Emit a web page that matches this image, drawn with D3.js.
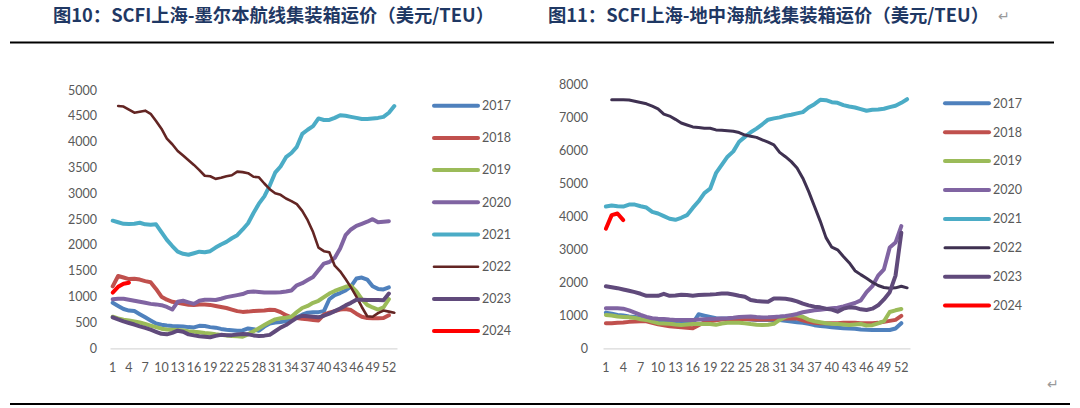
<!DOCTYPE html>
<html>
<head>
<meta charset="utf-8">
<script src="https://cdn.jsdelivr.net/npm/d3@7"></script>
<style>
html,body{margin:0;padding:0;background:#fff;}
svg{display:block;}
</style>
</head>
<body>
<svg id="chart" width="1080" height="408"></svg>
<script>
// ---------- data ----------
const weeks = [1,2,3,4,5,6,7,8,9,10,11,12,13,14,15,16,17,18,19,20,21,22,23,24,25,26,27,28,29,30,31,32,33,34,35,36,37,38,39,40,41,42,43,44,45,46,47,48,49,50,51,52,53];
const xTickLabels = [1,4,7,10,13,16,19,22,25,28,31,34,37,40,43,46,49,52];
const years = ["2017","2018","2019","2020","2021","2022","2023","2024"];
const melbTicks = [0,500,1000,1500,2000,2500,3000,3500,4000,4500,5000];
const medTicks = [0,1000,2000,3000,4000,5000,6000,7000,8000];
const titleLeft = "图10：SCFI上海-墨尔本航线集装箱运价（美元/TEU）";
const titleRight = "图11：SCFI上海-地中海航线集装箱运价（美元/TEU）";

// Shanghai - Melbourne (USD/TEU), index = week-1
const melb2017 = [880,820,760,730,720,660,600,540,480,455,440,430,425,420,410,405,435,430,410,400,375,360,350,340,345,385,370,340,420,480,500,510,530,550,600,650,690,700,700,720,950,1030,1070,1120,1200,1350,1370,1330,1200,1150,1140,1180];
const melb2018 = [1200,1400,1370,1340,1345,1330,1300,1280,1150,1000,940,900,880,860,845,840,850,850,840,820,800,780,750,720,705,710,720,725,730,745,740,700,640,600,585,570,560,550,540,650,690,720,750,760,740,670,610,585,580,580,585,640];
const melb2019 = [610,580,555,540,520,500,470,440,410,380,365,360,355,345,330,320,310,295,285,270,260,250,240,235,225,270,330,390,450,510,560,580,590,610,700,780,820,880,920,990,1060,1110,1150,1190,1210,1100,950,840,790,750,790,950];
const melb2020 = [950,960,960,940,920,900,880,860,850,835,800,750,900,920,890,860,920,940,940,935,960,990,1010,1030,1050,1090,1100,1090,1080,1080,1080,1085,1100,1120,1220,1260,1320,1380,1510,1640,1670,1750,1930,2190,2300,2370,2410,2450,2500,2440,2450,2460];
const melb2021 = [2470,2440,2410,2406,2410,2430,2400,2390,2400,2250,2100,1980,1870,1830,1810,1840,1870,1860,1880,1950,2010,2060,2130,2190,2300,2420,2620,2800,2940,3150,3400,3520,3700,3780,3900,4150,4230,4300,4450,4420,4420,4460,4510,4500,4480,4460,4440,4440,4450,4460,4480,4560,4690];
const melb2022 = [null,4690,4680,4620,4560,4580,4600,4540,4400,4250,4060,3950,3820,3730,3640,3550,3450,3340,3330,3280,3300,3330,3350,3420,3410,3390,3320,3310,3190,3080,3000,2970,2900,2850,2790,2660,2480,2250,1950,1880,1860,1600,1490,1340,1180,1000,800,620,610,680,730,710,690];
const melb2023 = [600,560,520,490,460,425,395,360,320,280,270,300,340,320,270,250,235,225,215,240,260,255,255,265,275,270,250,240,245,260,330,400,450,520,590,630,620,610,600,630,670,720,770,830,880,940,940,935,935,935,930,1060];
const melb2024 = [1080,1190,1250,1270];

// Shanghai - Mediterranean (USD/TEU)
const med2017 = [1080,1050,1010,990,965,950,920,905,880,820,800,780,770,760,755,755,1030,990,950,910,905,900,895,890,885,870,860,860,860,860,855,830,810,790,770,740,700,675,660,640,620,610,600,590,570,560,555,555,555,555,600,760];
const med2018 = [760,760,770,780,800,810,820,820,770,730,700,670,650,635,620,605,700,790,820,850,870,880,885,890,885,880,870,870,875,880,890,900,905,900,850,800,770,760,755,755,760,770,775,770,760,755,755,770,800,830,860,980];
const med2019 = [1010,990,960,950,940,920,880,860,810,760,750,740,720,705,720,736,740,735,735,710,750,775,775,776,760,735,715,705,715,740,860,950,1000,1000,950,870,820,790,760,745,736,720,705,720,735,690,700,756,820,1100,1150,1190];
const med2020 = [1210,1210,1210,1200,1150,1080,1010,950,910,895,885,870,860,855,855,860,870,880,890,895,905,910,925,945,955,960,945,935,940,950,960,975,1000,1040,1090,1120,1150,1170,1190,1210,1230,1270,1320,1370,1450,1700,1880,2200,2390,3050,3200,3700];
const med2021 = [4290,4320,4300,4290,4350,4350,4300,4260,4130,4080,4000,3920,3890,3950,4030,4250,4450,4700,4830,5300,5550,5800,5960,6250,6400,6540,6650,6780,6920,6960,6990,7040,7070,7110,7150,7290,7390,7520,7510,7450,7430,7360,7320,7290,7240,7190,7220,7230,7250,7300,7340,7430,7540];
const med2022 = [null,7520,7520,7520,7515,7480,7440,7400,7330,7250,7090,7030,6930,6820,6760,6700,6680,6660,6660,6610,6600,6585,6570,6530,6455,6420,6385,6310,6240,6160,5930,5800,5650,5460,5150,4750,4300,3850,3350,3060,2980,2780,2590,2350,2230,2120,2000,1900,1840,1815,1830,1880,1830];
const med2023 = [1880,1850,1820,1780,1740,1700,1650,1590,1590,1590,1650,1590,1600,1620,1610,1590,1610,1620,1625,1640,1660,1660,1630,1590,1560,1460,1430,1420,1410,1510,1510,1500,1470,1420,1350,1300,1260,1240,1200,1170,1110,1200,1240,1230,1180,1160,1200,1300,1480,1700,2200,3500];
const med2024 = [3620,4030,4080,3880];

const melbSeries = [melb2017,melb2018,melb2019,melb2020,melb2021,melb2022,melb2023,melb2024];
const medSeries = [med2017,med2018,med2019,med2020,med2021,med2022,med2023,med2024];

// ---------- styles ----------
const baseColors = ["#4f81bd","#c0504d","#9bbb59","#8064a2","#4bacc6",null,"#604a7b","#ff0000"];
const FONT = "Lato, 'Liberation Sans', sans-serif";
const CJK = "'Noto Sans CJK SC', sans-serif";
const TICK_COLOR = "#595959";

const svg = d3.select("#chart");
svg.append("rect").attr("width",1080).attr("height",408).attr("fill","#fff");

// titles
svg.append("text").attr("x",53).attr("y",22)
  .attr("font-family",CJK).attr("font-weight","bold").attr("font-size",18.3)
  .attr("fill","#1f3864").text(titleLeft);
svg.append("text").attr("x",548).attr("y",22)
  .attr("font-family",CJK).attr("font-weight","bold").attr("font-size",18.3)
  .attr("fill","#1f3864").text(titleRight);
svg.append("text").attr("x",998).attr("y",21)
  .attr("font-family",FONT).attr("font-size",14).attr("fill","#9a9a9a").text("↵");
svg.append("text").attr("x",1047).attr("y",389)
  .attr("font-family",FONT).attr("font-size",14).attr("fill","#9a9a9a").text("↵");

// rules
svg.append("line").attr("x1",10).attr("x2",1054).attr("y1",42.5).attr("y2",42.5)
  .attr("stroke","#000").attr("stroke-width",1.8);
svg.append("line").attr("x1",10).attr("x2",1070).attr("y1",404).attr("y2",404)
  .attr("stroke","#000").attr("stroke-width",1.8);

function drawPanel(cfg){
  const g = svg.append("g");
  const x = d3.scaleBand().domain(weeks).range([cfg.x0,cfg.x1]).paddingInner(0).paddingOuter(0);
  const y = d3.scaleLinear().domain([0,cfg.yMax]).range([cfg.yBase,cfg.yTop]);
  const cx = w => x(w) + x.bandwidth()/2;

  // y axis labels
  const ya = g.append("g").attr("transform",`translate(${cfg.x0},0)`)
    .call(d3.axisLeft(y).tickValues(cfg.yTicks).tickSize(0).tickPadding(cfg.yPad).tickFormat(d3.format("d")));
  ya.select(".domain").remove();
  ya.selectAll("text").attr("font-family",FONT).attr("font-size",12.5).attr("fill",TICK_COLOR);

  // x axis
  const xa = g.append("g").attr("transform",`translate(0,${cfg.yBase})`)
    .call(d3.axisBottom(x).tickValues(xTickLabels).tickSize(0).tickPadding(15));
  xa.select(".domain").attr("stroke","#d9d9d9").attr("stroke-width",1.2);
  xa.selectAll("text").attr("font-family",FONT).attr("font-size",12.5).attr("fill",TICK_COLOR);

  const line = d3.line().defined(d => d[1] != null).x(d => cx(d[0])).y(d => y(d[1]));

  cfg.series.forEach((arr,i) => {
    const pts = arr.map((v,j) => [weeks[j], v]);
    const color = i === 5 ? cfg.color2022 : baseColors[i];
    const sw = i === 5 ? cfg.width2022 : 4;
    g.append("path").datum(pts).attr("d",line)
      .attr("fill","none").attr("stroke",color).attr("stroke-width",sw)
      .attr("stroke-linejoin","round").attr("stroke-linecap","round");
  });

  // legend
  const lg = g.append("g");
  years.forEach((yr,i) => {
    const yy = cfg.legY + i*cfg.legStep;
    const color = i === 5 ? cfg.color2022 : baseColors[i];
    const sw = i === 5 ? cfg.width2022 : 4;
    lg.append("line").attr("x1",cfg.legX).attr("x2",cfg.legX+44).attr("y1",yy).attr("y2",yy)
      .attr("stroke",color).attr("stroke-width",sw).attr("stroke-linecap","round");
    lg.append("text").attr("x",cfg.legX+48).attr("y",yy).attr("dy","0.35em")
      .attr("font-family",FONT).attr("font-size",12.5).attr("fill",TICK_COLOR).text(yr);
  });
}

drawPanel({
  x0:110, x1:397, yBase:348.3, yTop:90, yMax:5000, yTicks:melbTicks, yPad:13,
  series:melbSeries, color2022:"#632523", width2022:2.6,
  legX:434, legY:105.7, legStep:32.2
});
drawPanel({
  x0:603, x1:910, yBase:348.3, yTop:84, yMax:8000, yTicks:medTicks, yPad:15,
  series:medSeries, color2022:"#3f3151", width2022:3,
  legX:945, legY:103.3, legStep:28.9
});
</script>
</body>
</html>
